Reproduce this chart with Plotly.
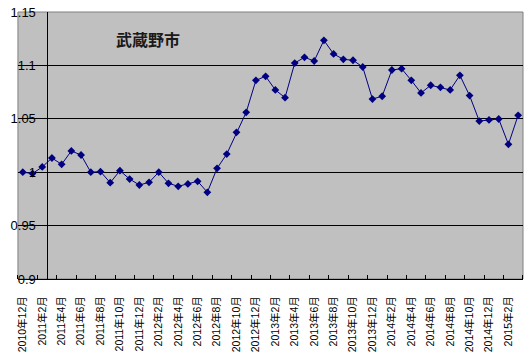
import plotly.graph_objects as go

# Data: monthly index 2010年12月 .. 2015年3月 (52 months)
values = [
    1.000, 0.9987, 1.0049, 1.0133, 1.0074, 1.0199, 1.0161, 1.0000, 1.0005, 0.9902,
    1.0014, 0.9936, 0.9880, 0.9905, 1.0000, 0.9896, 0.9868, 0.9890, 0.9915, 0.9812,
    1.0036, 1.0170, 1.0373, 1.0561, 1.0860, 1.0898, 1.0770, 1.0698, 1.1022, 1.1076,
    1.1041, 1.1235, 1.1107, 1.1057, 1.1048, 1.0985, 1.0685, 1.0711, 1.0957, 1.0969,
    1.0860, 1.0742, 1.0814, 1.0795, 1.0770, 1.0907, 1.0717, 1.0479, 1.0489, 1.0498,
    1.0261, 1.0533,
]
x_index = list(range(len(values)))

tick_labels = [
    "2010年12月", "2011年2月", "2011年4月", "2011年6月", "2011年8月", "2011年10月",
    "2011年12月", "2012年2月", "2012年4月", "2012年6月", "2012年8月", "2012年10月",
    "2012年12月", "2013年2月", "2013年4月", "2013年6月", "2013年8月", "2013年10月",
    "2013年12月", "2014年2月", "2014年4月", "2014年6月", "2014年8月", "2014年10月",
    "2014年12月", "2015年2月",
]
tick_positions = x_index[::2]

y_ticks = [0.9, 0.95, 1.0, 1.05, 1.1, 1.15]
y_grid = [0.95, 1.0, 1.05, 1.1]
y_range = [0.9, 1.15]
title_text = "武蔵野市"

W, H = 527, 355
ML, MR, MT, MB = 0, 4, 12, 76
pw = W - ML - MR
plot_left = 16

navy = "#000080"

fig = go.Figure()
fig.add_trace(go.Scatter(
    x=x_index, y=values, mode="lines+markers",
    line=dict(color=navy, width=1),
    marker=dict(symbol="diamond", size=6, color=navy, line=dict(width=0)),
    showlegend=False, hoverinfo="skip",
))

fig.update_layout(
    width=W, height=H,
    margin=dict(l=ML, r=MR, t=MT, b=MB, pad=0),
    paper_bgcolor="white", plot_bgcolor="#C0C0C0",
    xaxis=dict(
        domain=[plot_left / pw, 1],
        range=[-0.5, len(values) - 0.5],
        tickmode="array", tickvals=tick_positions, ticktext=tick_labels,
        tickangle=-90, ticks="", ticklabelstandoff=12,
        tickfont=dict(family="Liberation Sans, Noto Sans CJK JP", size=10.5, color="black"),
        showline=True, linecolor="black", linewidth=1,
        showgrid=False, zeroline=False,
        minor=dict(ticks="inside", tick0=1.5, dtick=2, ticklen=4,
                   tickcolor="black", tickwidth=1, showgrid=False),
    ),
    yaxis=dict(
        anchor="free", position=34 / pw,
        range=y_range, tickmode="array", tickvals=y_ticks,
        ticktext=[f"{v:g}" for v in y_ticks],
        ticks="", showline=False, showgrid=False, zeroline=False,
        tickfont=dict(family="Liberation Sans", size=13, color="black"),
    ),
    yaxis2=dict(
        overlaying="y", anchor="free", position=45 / pw, side="left",
        range=y_range, tickmode="array", tickvals=y_grid,
        showticklabels=False, ticks="inside", ticklen=4, tickcolor="black",
        showline=True, linecolor="black", linewidth=1,
        showgrid=True, gridcolor="black", gridwidth=1, zeroline=False,
    ),
    shapes=[dict(
        type="rect", xref="x domain", yref="y domain", x0=0, x1=1, y0=0, y1=1,
        line=dict(color="#808080", width=1), layer="below",
    )],
    annotations=[dict(
        text="<b>" + title_text + "</b>", xref="paper", yref="paper",
        x=146.5 / pw, y=(H - MB - 39) / (H - MT - MB),
        xanchor="center", yanchor="middle", showarrow=False,
        font=dict(family="Noto Sans CJK JP", size=16, color="#1a1a1a"),
    )],
)

# dummy trace on y2 so the overlaying axis renders
fig.add_trace(go.Scatter(x=[None], y=[None], yaxis="y2", showlegend=False, hoverinfo="skip"))

fig.write_html("out.html")
